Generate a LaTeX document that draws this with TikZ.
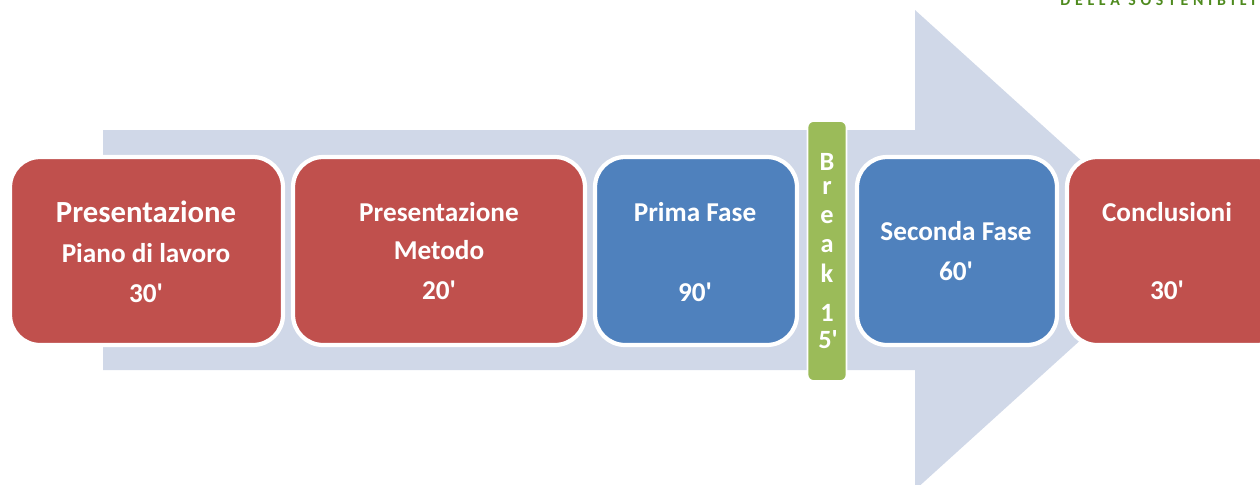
\documentclass[tikz,border=0pt]{standalone}
\usepackage{fontspec}
\setmainfont{Carlito}
\definecolor{boxred}{HTML}{C0504D}
\definecolor{boxblue}{HTML}{4F81BD}
\definecolor{boxgreen}{HTML}{9BBB59}
\definecolor{arrowc}{HTML}{D0D8E8}
\definecolor{logogreen}{HTML}{4E8A1E}
\newcommand{\mq}{\textquotesingle}
\tikzset{
  phase/.style={draw=white, line width=2.4pt, rounded corners=0.6cm, inner sep=0pt, outer sep=0pt, minimum height=3.76cm},
  redbox/.style={phase, fill=boxred},
  bluebox/.style={phase, fill=boxblue},
  breakbox/.style={draw=white, line width=1pt, rounded corners=0.12cm, fill=boxgreen, inner sep=0pt, minimum width=0.78cm, minimum height=5.2cm},
  txt/.style={text=white, font=\bfseries\fontsize{15.5}{17}\selectfont, inner sep=0pt},
  bigtxt/.style={text=white, font=\bfseries\fontsize{17.5}{19}\selectfont, inner sep=0pt},
  brk/.style={text=white, font=\bfseries\fontsize{15}{16}\selectfont, inner sep=0pt}
}
\begin{document}
\begin{tikzpicture}[x=0.02cm, y=-0.02cm]
\useasboundingbox (0,0) rectangle (1260,484);
\clip (0,0) rectangle (1260,484);
% big arrow
\fill[arrowc] (103,130) -- (915,130) -- (915,10) -- (1180,250) -- (915,490) -- (915,370) -- (103,370) -- cycle;
% logo fragment
\node[anchor=base west, text=logogreen, inner sep=0pt, font=\bfseries\fontsize{9}{10}\selectfont\addfontfeature{LetterSpace=30}] (logo) at (1060,5) {DELLA SOSTENIBILITÀ};
% boxes
\node[redbox, minimum width=5.46cm] (b1) at (146.5,251) {};
\node[redbox, minimum width=5.84cm] (b2) at (439,251) {};
\node[bluebox, minimum width=4.04cm] (b3) at (696,251) {};
\node[breakbox] (br) at (827,251) {};
\node[bluebox, minimum width=4.0cm] (b5) at (957,251) {};
\node[redbox, minimum width=4.4cm] (b6) at (1177,251) {};
% texts box 1
\node[bigtxt] (t1a) at (146,212) {Presentazione};
\node[txt] (t1b) at (146,253) {Piano di lavoro};
\node[txt] (t1c) at (146,293) {30\mq};
% box 2
\node[txt] (t2a) at (439,212) {Presentazione};
\node[txt] (t2b) at (439,250) {Metodo};
\node[txt] (t2c) at (439,290) {20\mq};
% box 3
\node[txt] (t3a) at (695,212) {Prima Fase};
\node[txt] (t3b) at (695,292) {90\mq};
% break
\node[brk] (k1) at (827,162) {B};
\node[brk] (k2) at (827,188) {r};
\node[brk] (k3) at (827,217) {e};
\node[brk] (k4) at (827,246) {a};
\node[brk] (k5) at (827,273) {k};
\node[brk] (k6) at (827,313) {1};
\node[brk] (k7) at (828,340) {5\mq};
% box 5
\node[txt] (t5a) at (956,231) {Seconda Fase};
\node[txt] (t5b) at (956,271) {60\mq};
% box 6
\node[txt] (t6a) at (1167,212) {Conclusioni};
\node[txt] (t6b) at (1167,290) {30\mq};
\end{tikzpicture}
\end{document}
